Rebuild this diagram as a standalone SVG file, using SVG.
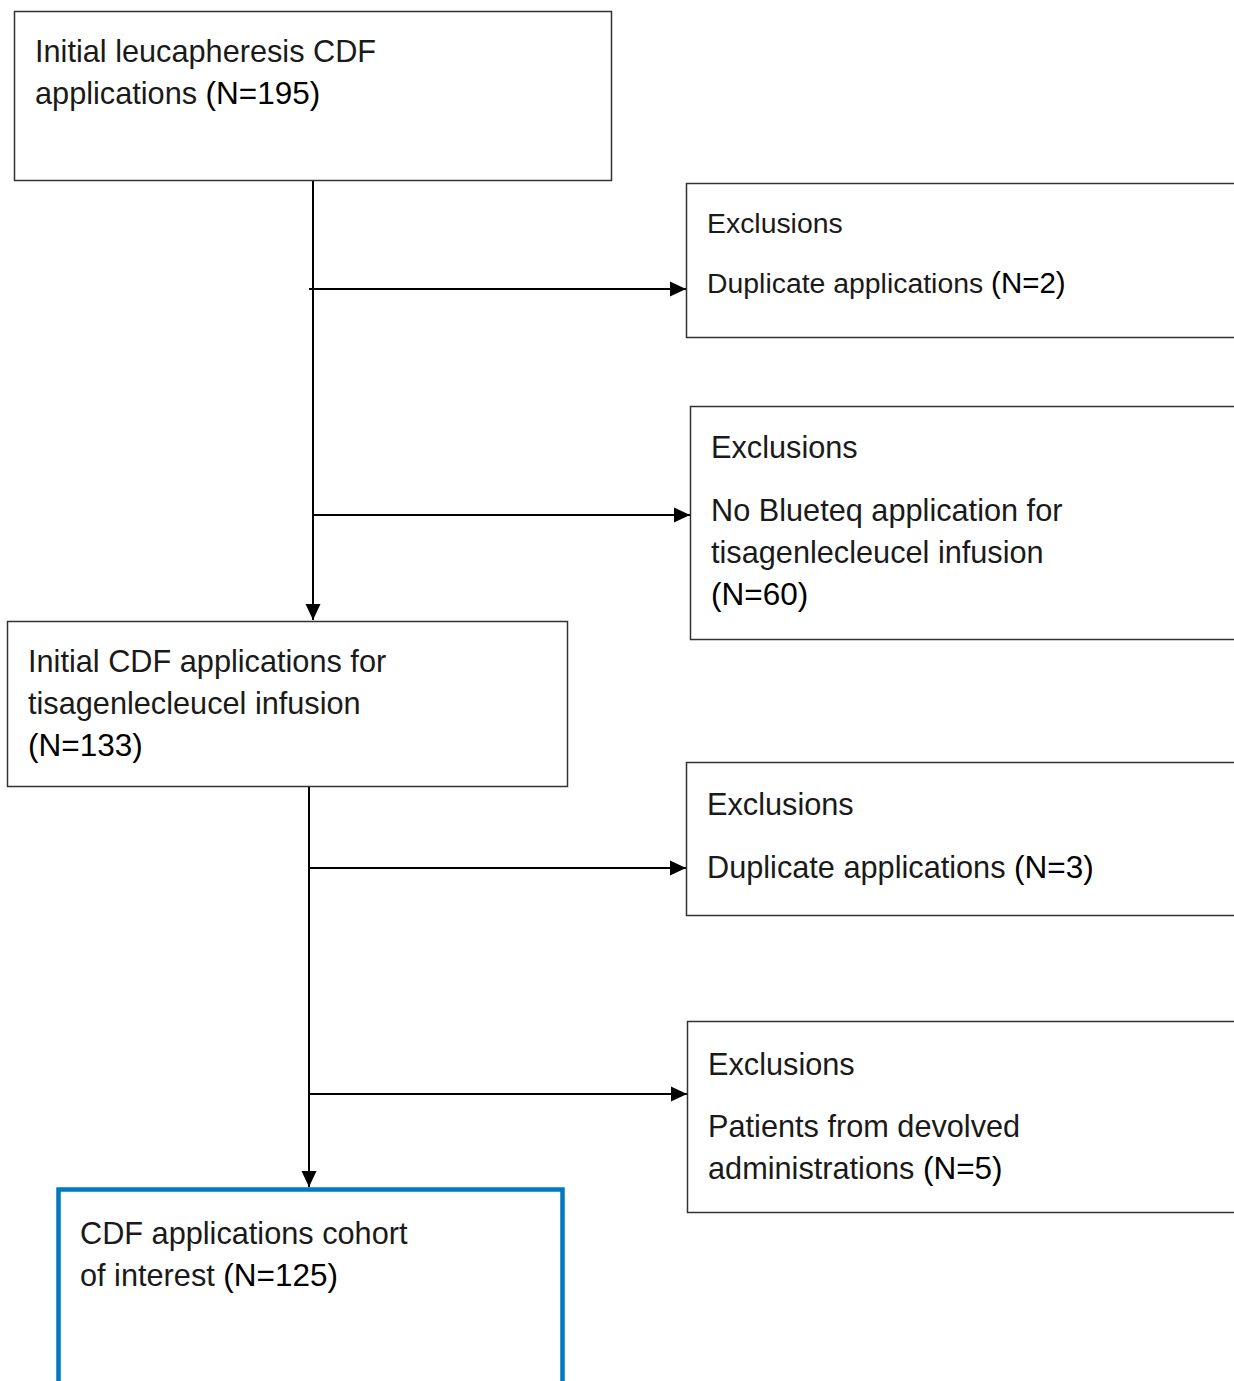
<svg xmlns="http://www.w3.org/2000/svg" width="1234" height="1381" viewBox="0 0 1234 1381">
<style>
.box{fill:#fff;stroke:#333;stroke-width:1.5}
.blue{fill:#fff;stroke:#0079BF;stroke-width:4.5}
.t{font-family:"Liberation Sans",Arial,sans-serif;font-size:30.7px;fill:#1a1a1a}
.s{font-size:28.4px}
.n{font-size:31.5px;fill:#000}
.c{stroke:#000;stroke-width:2;fill:none}
</style>
<defs>
<marker id="ah" markerUnits="userSpaceOnUse" markerWidth="16" markerHeight="16" refX="16" refY="8" orient="auto">
<path d="M0,0.5 L16,8 L0,15.5 Z" fill="#000"/>
</marker>
</defs>
<rect width="1234" height="1381" fill="#fff"/>
<g id="connectors">
<line class="c" x1="313" y1="180" x2="313" y2="620" marker-end="url(#ah)"/>
<line class="c" x1="309" y1="289" x2="686" y2="289" marker-end="url(#ah)"/>
<line class="c" x1="313" y1="515" x2="690" y2="515" marker-end="url(#ah)"/>
<line class="c" x1="309" y1="787" x2="309" y2="1187" marker-end="url(#ah)"/>
<line class="c" x1="309" y1="868" x2="686" y2="868" marker-end="url(#ah)"/>
<line class="c" x1="309" y1="1094" x2="687" y2="1094" marker-end="url(#ah)"/>
</g>
<g id="node1">
<rect class="box" x="14.5" y="11.5" width="597" height="169"/>
<text class="t" x="35" y="62">Initial leucapheresis CDF</text>
<text class="t" x="35" y="104">applications <tspan class="n">(N=195)</tspan></text>
</g>
<g id="node2">
<rect class="box" x="686.5" y="183.5" width="560" height="154"/>
<text class="t s" x="707" y="233">Exclusions</text>
<text class="t s" x="707" y="293">Duplicate applications <tspan class="n" style="font-size:29.5px">(N=2)</tspan></text>
</g>
<g id="node3">
<rect class="box" x="690.5" y="406.5" width="560" height="233"/>
<text class="t" x="711" y="458">Exclusions</text>
<text class="t" x="711" y="521">No Blueteq application for</text>
<text class="t" x="711" y="563">tisagenlecleucel infusion</text>
<text class="t" x="711" y="605"><tspan class="n">(N=60)</tspan></text>
</g>
<g id="node4">
<rect class="box" x="7.5" y="621.5" width="560" height="165"/>
<text class="t" x="28" y="672">Initial CDF applications for</text>
<text class="t" x="28" y="714">tisagenlecleucel infusion</text>
<text class="t" x="28" y="756"><tspan class="n">(N=133)</tspan></text>
</g>
<g id="node5">
<rect class="box" x="686.5" y="762.5" width="560" height="153"/>
<text class="t" x="707" y="815">Exclusions</text>
<text class="t" x="707" y="878">Duplicate applications <tspan class="n">(N=3)</tspan></text>
</g>
<g id="node6">
<rect class="box" x="687.5" y="1021.5" width="560" height="191"/>
<text class="t" x="708" y="1075">Exclusions</text>
<text class="t" x="708" y="1137">Patients from devolved</text>
<text class="t" x="708" y="1179">administrations <tspan class="n">(N=5)</tspan></text>
</g>
<g id="node7">
<rect class="blue" x="58.5" y="1189.5" width="504" height="220"/>
<text class="t" x="80" y="1244">CDF applications cohort</text>
<text class="t" x="80" y="1286">of interest <tspan class="n">(N=125)</tspan></text>
</g>
</svg>
